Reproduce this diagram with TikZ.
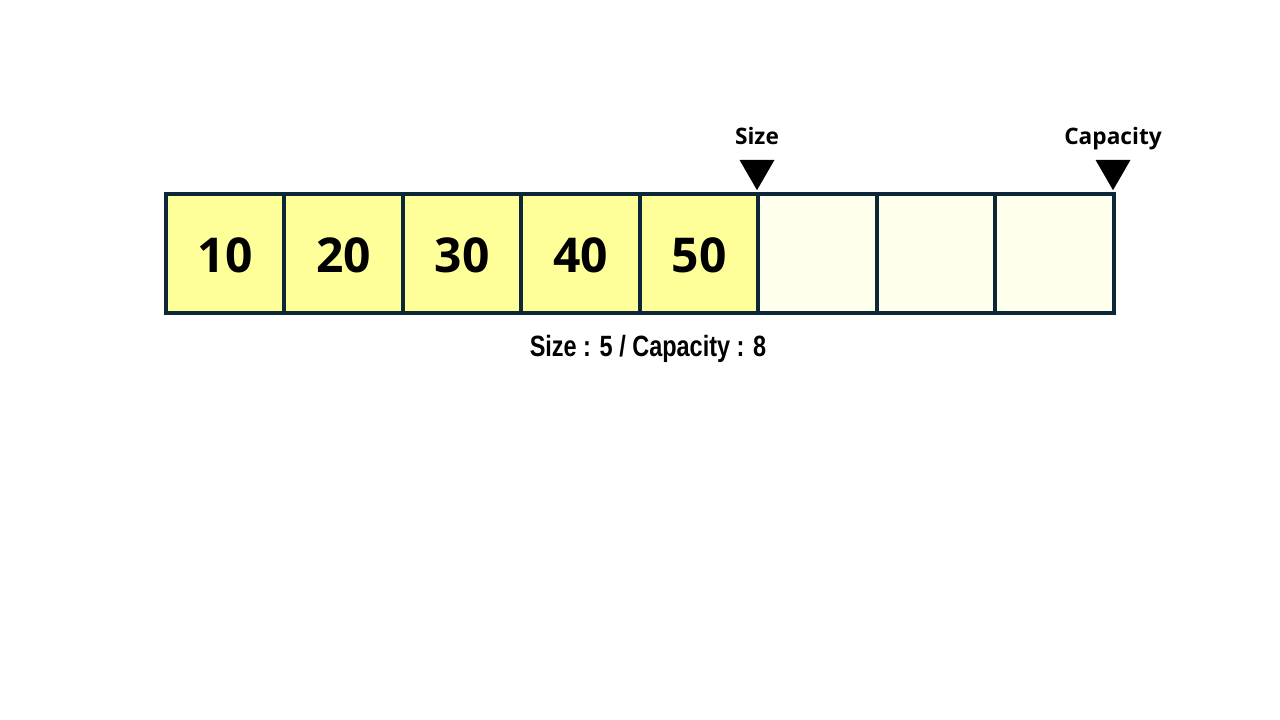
\documentclass[tikz,border=0pt]{standalone}
\usepackage{fontspec}
\setmainfont{Open Sans}
\newfontfamily\narrowfont{Liberation Sans}
\usetikzlibrary{shapes.geometric}
\definecolor{cellline}{RGB}{12,40,56}
\definecolor{usedfill}{RGB}{255,255,153}
\definecolor{freefill}{RGB}{255,255,238}
\tikzset{
  cell/.style={draw=cellline,line width=3pt,minimum width=88.9pt,minimum height=89.2pt,inner sep=0pt,text height=29pt,font=\fontsize{36}{40}\selectfont\bfseries},
  used/.style={cell,fill=usedfill},
  free/.style={cell,fill=freefill},
  marker/.style={regular polygon,regular polygon sides=3,shape border rotate=180,fill=black,inner sep=0pt,minimum size=30.3pt},
  tag/.style={anchor=base,font=\fontsize{17}{20}\selectfont\bfseries}
}
\begin{document}
\begin{tikzpicture}[x=0.75pt,y=-0.75pt]
				\useasboundingbox (0,0) rectangle (1280,720);
				% Vector cells
				\foreach \v [count=\i] in {10,20,30,40,50}
					\node[used] (c\i) at ({166+118.5*(\i-0.5)},253.5) {\v};
				\foreach \i in {6,7,8}
					\node[free] (c\i) at ({166+118.5*(\i-0.5)},253.5) {};
				
				\node[marker] (SizeMark) at (757,170) {};
				\node[marker] (CapMark) at (1113,170) {};
				\node[tag] (SizeTag) at (757,145) {Size};
				\node[tag] (CapTag) at (1113,145) {Capacity};
				\node[anchor=base] (Summary) at (648,356) {\narrowfont\bfseries\fontsize{22}{26}\selectfont\scalebox{0.8}[1]{Size : 5 / Capacity : 8}};
				
				\end{tikzpicture}
\end{document}
